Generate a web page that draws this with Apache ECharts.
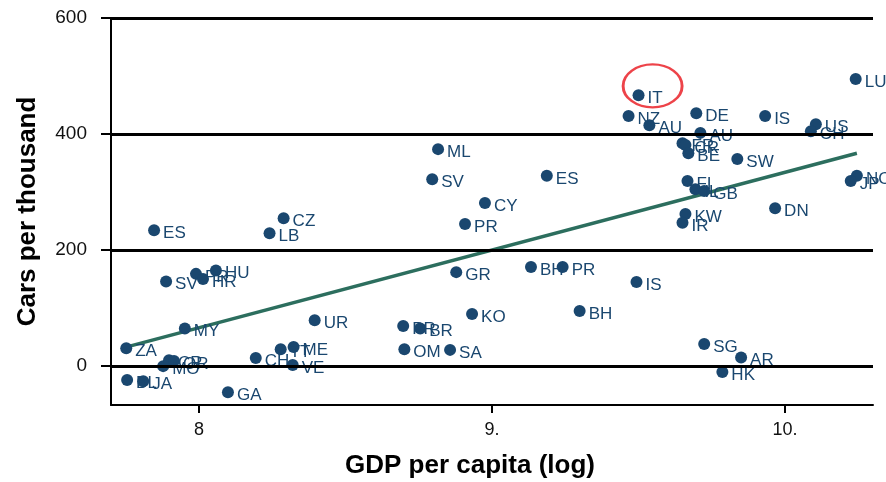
<!DOCTYPE html>
<html>
<head>
<meta charset="utf-8">
<script src="https://cdn.jsdelivr.net/npm/echarts@6/dist/echarts.min.js"></script>
<style>
html,body{margin:0;padding:0;background:#fff;}
#chart{width:886px;height:482px;}
</style>
</head>
<body>
<div id="chart"></div>
<script>
// ---- data ----
const countries = ['LU','IT','NZ','AU','DE','IS','US','CH','AU','FR','CR','BE','SW','ML','SV','ES','CY','PR','FI','IL','GB','NO','JP','DN','KW','IR','ES','CZ','LB','SV','PR','HR','HU','GR','BH','PR','IS','BH','KO','PR','BR','OM','SA','UR','MY','ZA','CH','TT','ME','VE','GA','MO','CR','OR','BL','JA','SG','AR','HK'];
const gdpLog = [10.241,9.500,9.466,9.537,9.697,9.932,10.105,10.088,9.711,9.650,9.660,9.670,9.837,8.816,8.796,9.187,8.976,8.908,9.667,9.694,9.724,10.245,10.224,9.966,9.660,9.650,7.847,8.289,8.241,7.888,7.990,8.014,8.058,8.878,9.133,9.241,9.493,9.299,8.932,8.697,8.755,8.701,8.857,8.395,7.952,7.752,8.194,8.279,8.323,8.320,8.099,7.878,7.898,7.915,7.755,7.810,9.724,9.850,9.786];
const carsPerThousand = [495,467,431,415,436,431,417,405,402,384,381,367,357,374,322,328,281,245,319,305,302,328,319,272,262,247,234,255,229,146,159,150,165,162,171,171,145,95,90,69,65,29,28,79,65,31,14,29,33,2,-45,0,10,9,-24,-26,38,15,-10];
const fitX = [7.751, 10.245];
const fitY = [32.8, 367];
const xTicks = [8, 9, 10];
const xTickLabels = ['8', '9.', '10.'];
const yTicks = [0, 200, 400, 600];
const yTickLabels = ['0', '200', '400', '600'];
const highlightX = [9.548];
const highlightY = [483];

const navy = '#1a476f';
const chart = echarts.init(document.getElementById('chart'));
const font = '"Liberation Sans", Arial, sans-serif';

function labelFor(ticks, labels){
  return function(v){
    for (let i=0;i<ticks.length;i++){ if (Math.abs(ticks[i]-v)<1e-6) return labels[i]; }
    return '';
  };
}

const option = {
  animation: false,
  backgroundColor: '#fff',
  grid: {left: 111, right: 13, top: 18, bottom: 77, containLabel: false, outerBoundsMode: 'none'},
  xAxis: {
    type: 'value', min: 7.70, max: 10.30,
    name: 'GDP per capita (log)', nameLocation: 'middle', nameGap: 48,
    nameTextStyle: {fontFamily: font, fontSize: 26, fontWeight: 'bold', color: '#000', padding: [0, 44, 0, 0]},
    axisLine: {show: true, onZero: false, lineStyle: {color: '#000', width: 2}},
    axisTick: {show: true, customValues: xTicks, length: 8, lineStyle: {color: '#000', width: 2}},
    axisLabel: {customValues: xTicks, formatter: labelFor(xTicks, xTickLabels), margin: 16, fontFamily: font, fontSize: 18, color: '#111'},
    splitLine: {show: false}
  },
  yAxis: {
    type: 'value', min: -67, max: 600,
    name: 'Cars per thousand', nameLocation: 'middle', nameGap: 70, nameRotate: 90,
    nameTextStyle: {fontFamily: font, fontSize: 26, fontWeight: 'bold', color: '#000'},
    axisLine: {show: true, onZero: false, lineStyle: {color: '#000', width: 2}},
    axisTick: {show: true, customValues: yTicks, length: 10, lineStyle: {color: '#000', width: 2}},
    axisLabel: {customValues: yTicks, formatter: labelFor(yTicks, yTickLabels), margin: 24, fontFamily: font, fontSize: 19, color: '#111'},
    splitLine: {show: false}
  },
  series: [
    {
      type: 'scatter', data: [], z: 1, silent: true,
      markLine: {
        silent: true, symbol: ['none','none'], animation: false,
        label: {show: false},
        lineStyle: {color: '#000', width: 3, type: 'solid'},
        data: yTicks.map(v => ({yAxis: v}))
      }
    },
    {
      type: 'line', z: 3, silent: true, symbol: 'none',
      data: fitX.map((x,i)=>[x, fitY[i]]),
      lineStyle: {color: '#2c6e5e', width: 3.5}
    },
    {
      type: 'scatter', z: 4, clip: false,
      symbolSize: 12,
      itemStyle: {color: navy, opacity: 1},
      data: gdpLog.map((x,i)=>({value:[x, carsPerThousand[i]], name: countries[i]})),
      label: {
        show: true, position: 'right', distance: 3, offset: [0, 3],
        formatter: p => p.name,
        fontFamily: font, fontSize: 17, color: navy
      }
    },
    {
      type: 'scatter', z: 5, silent: true, clip: false,
      symbol: 'circle', symbolSize: [59, 43],
      itemStyle: {color: 'rgba(0,0,0,0)', borderColor: '#e8141b', borderWidth: 2.5},
      data: highlightX.map((x,i)=>[x, highlightY[i]])
    }
  ]
};
chart.setOption(option);
</script>
</body>
</html>
